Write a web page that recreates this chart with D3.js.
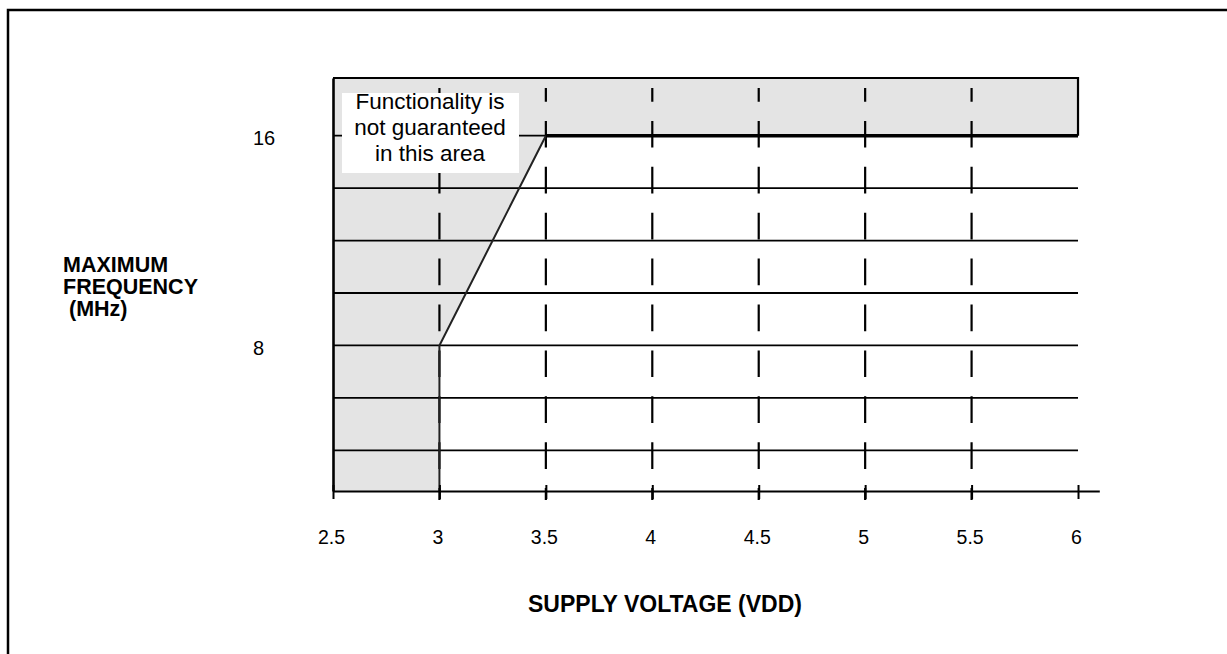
<!DOCTYPE html>
<html><head><meta charset="utf-8">
<script src="https://cdn.jsdelivr.net/npm/d3@7"></script>
<style>
html,body{margin:0;padding:0;background:#fff;overflow:hidden}
text{font-family:"Liberation Sans",Arial,Helvetica,sans-serif;fill:#000}
</style>
</head><body>
<svg id="c" width="1227" height="654"></svg>
<script>
// ---- data ----
const xTicks = [2.5, 3, 3.5, 4, 4.5, 5, 5.5, 6];
const xTickLabels = ["2.5", "3", "3.5", "4", "4.5", "5", "5.5", "6"];
const yTicks = [8, 16];
const yTickLabels = ["8", "16"];
const yGrid = [4, 6, 8, 10, 12, 14, 16];
const xGrid = [3, 3.5, 4, 4.5, 5, 5.5];
const freqMin = 2.45, freqMax = 18.2;          // plotted frequency range (MHz)
const voltMin = 2.5, voltMax = 6;              // plotted voltage range (V)
const limitVolt = [3, 3, 3.5, 6];              // max-frequency limit curve
const limitFreq = [freqMin, 8, 16, 16];
const noteLines = ["Functionality is", "not guaranteed", "in this area"];
const yTitleLines = ["MAXIMUM", "FREQUENCY", "\u00a0(MHz)"];
const xTitle = "SUPPLY VOLTAGE (VDD)";

// ---- scales ----
const svg = d3.select("#c");
const x = d3.scaleLinear().domain([2.5, 6.1]).range([333, 1099.3]);
const y = d3.scaleLinear().domain([freqMin, freqMax]).range([491, 78]);

// outer frame
svg.append("path").attr("d", "M8,654V10H1227")
  .attr("fill", "none").attr("stroke", "#000").attr("stroke-width", 2.5);

// shaded "not guaranteed" region
const limitPts = limitVolt.map((v, i) => [x(v), y(limitFreq[i])]);
const shade = [...limitPts, [x(voltMax), y(freqMax)], [x(voltMin), y(freqMax)], [x(voltMin), y(freqMin)]];
svg.append("path").attr("d", d3.line()(shade) + "Z").attr("fill", "#e4e4e4");

// horizontal grid
svg.append("g").selectAll("line").data(yGrid).join("line")
  .attr("x1", x(voltMin)).attr("x2", x(voltMax))
  .attr("y1", d => y(d)).attr("y2", d => y(d))
  .attr("stroke", "#000").attr("stroke-width", 1.8);

// vertical dashed grid
svg.append("g").selectAll("line").data(xGrid).join("line")
  .attr("x1", d => x(d)).attr("x2", d => x(d))
  .attr("y1", y(freqMax) + 10).attr("y2", y(freqMin) + 9)
  .attr("stroke", "#000").attr("stroke-width", 2.2)
  .attr("stroke-dasharray", "26.7 19.2").attr("stroke-dashoffset", 13);

// note box
svg.append("rect").attr("x", 342).attr("y", 93).attr("width", 177).attr("height", 80).attr("fill", "#fff");
svg.append("g").selectAll("text").data(noteLines).join("text")
  .attr("x", 430).attr("y", (d, i) => 109 + i * 26)
  .attr("text-anchor", "middle").attr("font-size", 22.5).text(d => d);

// limit curve
svg.append("path").attr("d", d3.line()(limitPts.slice(0, 3)))
  .attr("fill", "none").attr("stroke", "#222").attr("stroke-width", 2);
svg.append("path").attr("d", d3.line()(limitPts.slice(2)))
  .attr("fill", "none").attr("stroke", "#000").attr("stroke-width", 3.5);

// box border (top and right)
svg.append("path")
  .attr("d", `M${x(voltMin)},${y(freqMax)}H${x(voltMax)}V${y(16)}`)
  .attr("fill", "none").attr("stroke", "#000").attr("stroke-width", 2.2);

// y axis line
const gy = svg.append("g").attr("transform", `translate(${x(voltMin)},0)`)
  .call(d3.axisLeft(y).tickValues([]).tickSizeOuter(0));
gy.select(".domain").attr("stroke", "#000").attr("stroke-width", 2.6);

// x axis
const gx = svg.append("g").attr("transform", `translate(0,${y(freqMin)})`)
  .call(d3.axisBottom(x).tickValues(xTicks).tickSizeInner(8).tickSizeOuter(0)
    .tickFormat((d, i) => xTickLabels[i]));
gx.attr("font-family", null).attr("font-size", null);
gx.select(".domain").attr("stroke", "#000").attr("stroke-width", 2.2);
gx.selectAll(".tick line").attr("y1", -6).attr("y2", 8).attr("stroke", "#000").attr("stroke-width", 2);
gx.selectAll(".tick text").attr("y", 53).attr("dy", 0).attr("dx", -2)
  .attr("font-size", 19.5).attr("fill", "#000");

// y tick labels
svg.append("g").selectAll("text").data(yTicks).join("text")
  .attr("x", 253).attr("y", d => y(d) + 9.5)
  .attr("font-size", 20).text((d, i) => yTickLabels[i]);

// axis titles
svg.append("g").selectAll("text").data(yTitleLines).join("text")
  .attr("x", 63).attr("y", (d, i) => 272 + i * 22)
  .attr("font-size", 21.5).attr("font-weight", "bold").text(d => d);
svg.append("text").attr("x", 665).attr("y", 612).attr("text-anchor", "middle")
  .attr("font-size", 23).attr("font-weight", "bold").text(xTitle);
</script>
</body></html>
